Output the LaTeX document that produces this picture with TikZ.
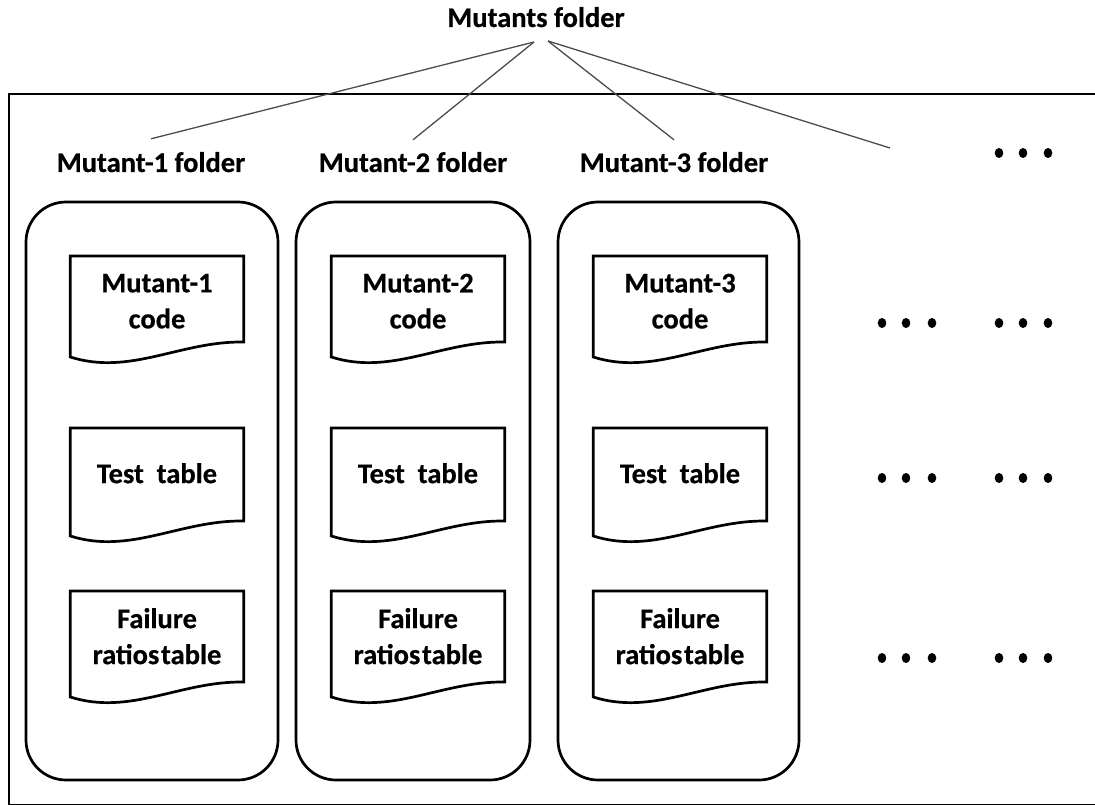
\documentclass[tikz,border=0pt]{standalone}
\usepackage{fontspec}
\setmainfont{Carlito}[BoldFeatures={FakeBold=0.5}]
\usetikzlibrary{calc}

% outline of a flowchart "document" symbol around node #1, left edge height #2
\newcommand\docoutline[2]{%
  \draw[docline] (#1.north west) -- (#1.north east)
    -- ($(#1.north east)+(0,#2-15)$)
    .. controls ($(#1.north west)+(110,#2-16)$) and ($(#1.north west)+(60,#2+19)$)
    .. ($(#1.north west)+(0,#2)$) -- cycle;}

\begin{document}
\begin{tikzpicture}[x=1pt,y=-1pt,
  lbl/.style={font=\fontsize{28.5}{33}\selectfont\bfseries, inner sep=0pt},
  folderbox/.style={draw, line width=2.7pt, rounded corners=40pt},
  docnode/.style={font=\fontsize{28.5}{36}\selectfont\bfseries, align=center,
    minimum width=173pt, minimum height=90pt, inner sep=0pt, anchor=north},
  docline/.style={line width=2.7pt, line join=miter},
  link/.style={draw=black!70, line width=1.3pt},
  dot/.style={fill=black, draw=none}]
\useasboundingbox (0,0) rectangle (1095,805);
\clip (0,0) rectangle (1095,805);

% outer frame (runs off the right and bottom edges)
\draw[line width=2.8pt] (9,94) rectangle (1115,805.8);

% root and folder labels
\node[lbl, anchor=base] (root) at (536,27) {Mutants folder};
\node[lbl, anchor=base] (lab1) at (151,172) {Mutant-1 folder};
\node[lbl, anchor=base] (lab2) at (413,172) {Mutant-2 folder};
\node[lbl, anchor=base] (lab3) at (674,172) {Mutant-3 folder};

\coordinate (apexL) at (534,42);
\coordinate (apexR) at (548,41);
\coordinate (more) at (890,148);

\draw[link] (apexL) -- ([yshift=13pt]lab1.north);
\draw[link] (apexL) -- ([yshift=12pt]lab2.north);
\draw[link] (apexR) -- ([yshift=12pt]lab3.north);
\draw[link] (apexR) -- (more);

% folder boxes
\draw[folderbox] (26,202) rectangle (278,780);
\draw[folderbox] (296,202) rectangle (530,780);
\draw[folderbox] (558,202) rectangle (799,780);

% documents
\node[docnode] (c1) at (157,256) {Mutant-1\\code};
\node[docnode] (c2) at (418,256) {Mutant-2\\code};
\node[docnode] (c3) at (680,256) {Mutant-3\\code};
\node[docnode] (t1) at (157,428) {Test\hspace{0.45em}table};
\node[docnode] (t2) at (418,428) {Test\hspace{0.45em}table};
\node[docnode] (t3) at (680,428) {Test\hspace{0.45em}table};
\node[docnode] (f1) at (157,591) {Failure\\ratios\hspace{0.06em}table};
\node[docnode] (f2) at (418,591) {Failure\\ratios\hspace{0.06em}table};
\node[docnode] (f3) at (680,591) {Failure\\ratios\hspace{0.06em}table};

\foreach \n in {c1,c2,c3} {\docoutline{\n}{101}}
\foreach \n in {t1,t2,t3} {\docoutline{\n}{108}}
\foreach \n in {f1,f2,f3} {\docoutline{\n}{106}}

% ellipsis dots
\foreach \x in {999,1023,1048} {\fill[dot] (\x,153) ellipse (4.3pt and 5pt);}
\foreach \y in {323,478,658} {
  \foreach \x in {882,906,932,999,1023,1048} {\fill[dot] (\x,\y) ellipse (4.3pt and 5pt);}
}
\end{tikzpicture}
\end{document}
